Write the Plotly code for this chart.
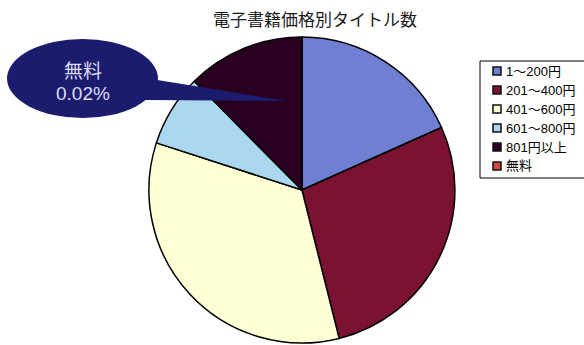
import plotly.graph_objects as go

# Share of e-book titles by price band (%)
categories = ["1～200円", "201～400円", "401～600円", "601～800円", "801円以上", "無料"]
shares = [18.3, 27.8, 33.9, 7.6, 12.4, 0.02]
colors = ["#6f80d2", "#7b1232", "#ffffd6", "#aad6ef", "#2a0020", "#d64848"]

title_text = "電子書籍価格別タイトル数"
callout_index = 5  # the free-title slice gets a speech-bubble label

W, H = 584, 345
M_L, M_R, M_T, M_B = 0, 0, 37, 2
PLOT_H = H - M_T - M_B


def px_x(x):
    return x / (W - M_L - M_R)


def px_y(y):
    return (H - M_B - y) / PLOT_H


font_jp = "Noto Sans CJK JP, Noto Sans, sans-serif"
font_mixed = "Liberation Sans, Noto Sans CJK JP, sans-serif"

fig = go.Figure(
    go.Pie(
        labels=categories,
        values=shares,
        sort=False,
        direction="clockwise",
        rotation=0,
        textinfo="none",
        hoverinfo="label+percent",
        marker=dict(colors=colors, line=dict(color="#000000", width=1.5)),
        domain=dict(x=[0.517 - 0.3, 0.517 + 0.3], y=[0, 1]),
        showlegend=False,
    )
)

# Speech bubble: ellipse body plus a tapered tail pointing into the pie
bubble_color = "#1c1c6e"
fig.add_shape(
    type="circle", xref="paper", yref="paper",
    x0=px_x(7), x1=px_x(158), y0=px_y(39), y1=px_y(118),
    fillcolor=bubble_color, line=dict(width=0), layer="above",
)
fig.add_shape(
    type="path", xref="paper", yref="paper",
    path=(f"M {px_x(145)},{px_y(78)} L {px_x(287)},{px_y(101)} "
          f"L {px_x(145)},{px_y(100)} Z"),
    fillcolor=bubble_color, line=dict(width=0), layer="above",
)
bubble_lines = [categories[callout_index], f"{shares[callout_index]:.2f}%"]
for line_text, cy in zip(bubble_lines, [71, 93]):
    fig.add_annotation(
        xref="paper", yref="paper", x=px_x(83), y=px_y(cy),
        xanchor="center", yanchor="middle",
        text=line_text, showarrow=False,
        font=dict(family=font_mixed, size=19, color="#dcdcf2"),
    )

# Boxed legend: small bordered swatches with labels
legend_left, legend_top, legend_bottom = 480, 61, 178
row_first, row_step = 71, 19
fig.add_shape(
    type="rect", xref="paper", yref="paper",
    x0=px_x(legend_left), x1=px_x(W + 10),
    y0=px_y(legend_top), y1=px_y(legend_bottom),
    line=dict(color="#000000", width=1), fillcolor="white", layer="above",
)
for i, (name, col) in enumerate(zip(categories, colors)):
    cy = row_first + i * row_step
    fig.add_shape(
        type="rect", xref="paper", yref="paper",
        x0=px_x(493), x1=px_x(501), y0=px_y(cy - 4), y1=px_y(cy + 4),
        line=dict(color="#111111", width=1.5), fillcolor=col, layer="above",
    )
    fig.add_annotation(
        xref="paper", yref="paper", x=px_x(504), y=px_y(cy),
        xanchor="left", yanchor="middle", text=name, showarrow=False,
        font=dict(family=font_mixed, size=13, color="#000000"),
    )

fig.update_layout(
    width=W, height=H,
    margin=dict(l=M_L, r=M_R, t=M_T, b=M_B),
    paper_bgcolor="white", plot_bgcolor="white",
    title=dict(
        text=title_text, x=315 / W, xanchor="center",
        y=1 - 20 / H, yanchor="middle",
        font=dict(family=font_jp, size=17, color="#1a1a1a"),
    ),
    showlegend=False,
)

fig.write_html("out.html")
